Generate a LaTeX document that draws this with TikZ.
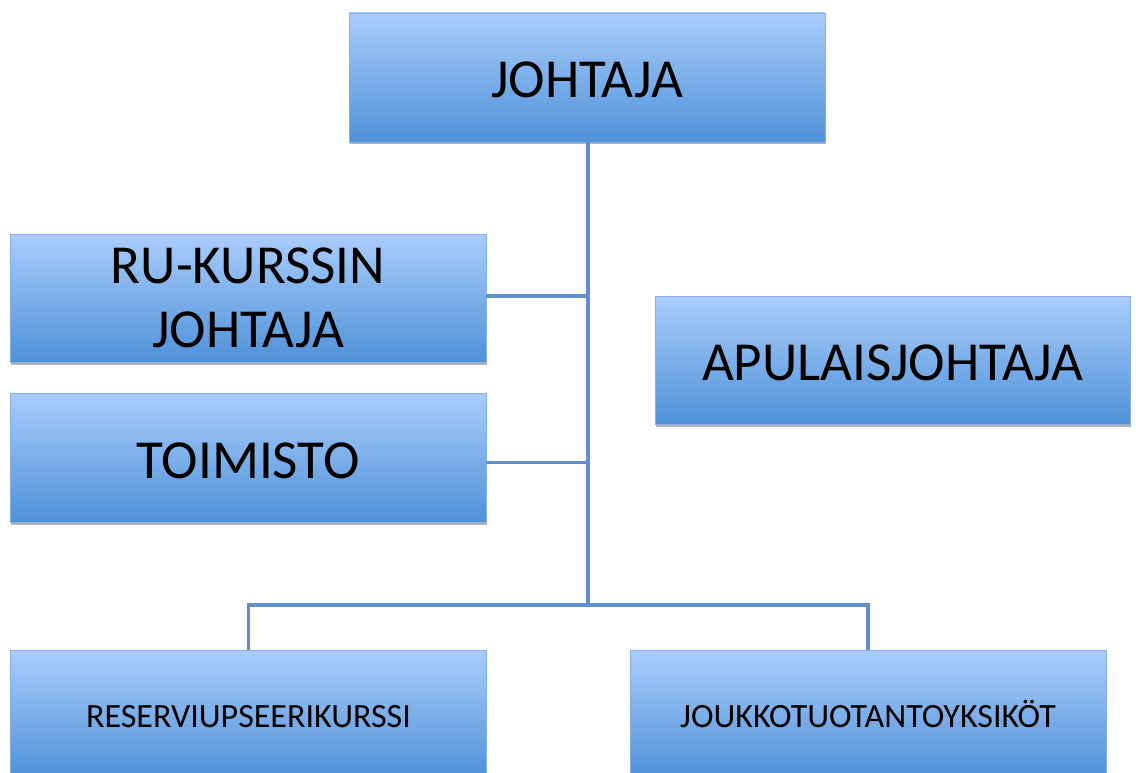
\documentclass[tikz,border=0pt]{standalone}
\usepackage{fontspec}
\setmainfont{Carlito}
\usetikzlibrary{shadows}
\definecolor{boxtop}{HTML}{AACDFC}
\definecolor{boxbot}{HTML}{4F91D8}
\definecolor{boxedge}{HTML}{86AEE0}
\definecolor{linkc}{HTML}{5F8FCC}
\tikzset{
  orgbox/.style={rectangle, minimum width=476pt, minimum height=128pt, inner sep=0pt,
    top color=boxtop, bottom color=boxbot, draw=boxedge, line width=0.8pt,
    drop shadow={shadow xshift=0.8pt, shadow yshift=-2.5pt, opacity=0.3, fill=black},
    align=center, font=\fontsize{55}{64}\selectfont, text=black},
  oneline/.style={text height=41pt, text depth=0pt},
  smalltext/.style={font=\fontsize{34}{41}\selectfont, text height=26pt, text depth=0pt},
  link/.style={draw=linkc, line width=3.3pt}
}
\begin{document}
\begin{tikzpicture}[x=1pt,y=-1pt]
\useasboundingbox (0,0) rectangle (1136,773);
\begin{scope}
\clip (0,0) rectangle (1136,773);
\node[orgbox, oneline, minimum height=129pt] (joh) at (587,77.5) {JOHTAJA};
\node[orgbox] (ru) at (248,298) {RU-KURSSIN\\JOHTAJA};
\node[orgbox, oneline, minimum height=129pt] (toim) at (248,457.5) {TOIMISTO};
\node[orgbox, oneline, minimum width=475pt] (apu) at (892.5,360) {APULAISJOHTAJA};
\node[orgbox, smalltext] (res) at (248.5,714) {RESERVIUPSEERIKURSSI};
\node[orgbox, smalltext] (jou) at (868,714) {JOUKKOTUOTANTOYKSIKÖT};
\coordinate (fork) at (588,605);
\draw[link] (joh.south -| fork) -- (fork);
\draw[link] ([yshift=2pt]ru.east) -- ([yshift=2pt]ru.east -| fork);
\draw[link] ([yshift=-5pt]toim.east) -- ([yshift=-5pt]toim.east -| fork);
\draw[link] (res.north) |- (fork) -| (jou.north);
\end{scope}
\end{tikzpicture}
\end{document}
